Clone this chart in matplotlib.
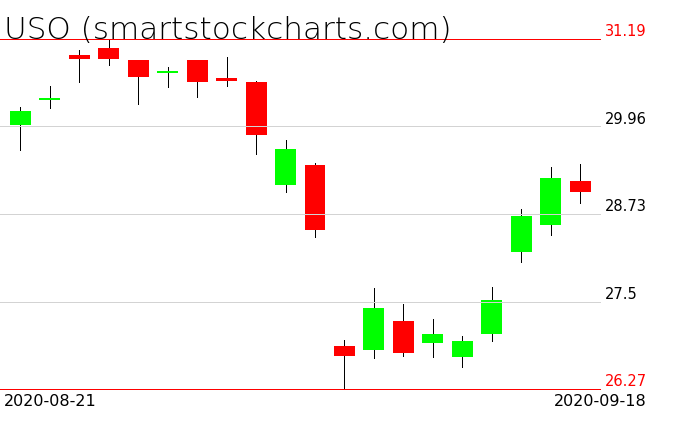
import matplotlib
matplotlib.use("Agg")
import matplotlib.pyplot as plt

# USO daily candles, 2020-08-21 .. 2020-09-18
dates = ["2020-08-21", "2020-08-24", "2020-08-25", "2020-08-26", "2020-08-27",
         "2020-08-28", "2020-08-31", "2020-09-01", "2020-09-02", "2020-09-03",
         "2020-09-04", "2020-09-08", "2020-09-09", "2020-09-10", "2020-09-11",
         "2020-09-14", "2020-09-15", "2020-09-16", "2020-09-17", "2020-09-18"]
opens = [29.98, 30.33, 30.97, 31.06, 30.89, 30.73, 30.89, 30.64, 30.59, 29.14,
         29.42, 26.87, 26.82, 27.23, 26.91, 26.72, 27.04, 28.19, 28.57, 29.19]
highs = [30.24, 30.53, 31.03, 31.18, 30.89, 30.80, 30.89, 30.94, 30.60, 29.77,
         29.45, 26.96, 27.69, 27.47, 27.26, 27.01, 27.70, 28.80, 29.39, 29.43]
lows = [29.63, 30.22, 30.58, 30.83, 30.27, 30.51, 30.38, 30.53, 29.58, 29.04,
        28.40, 26.27, 26.70, 26.74, 26.72, 26.58, 26.95, 28.05, 28.43, 28.89]
closes = [30.18, 30.35, 30.91, 30.91, 30.66, 30.73, 30.58, 30.60, 29.84, 29.64,
          28.50, 26.74, 27.41, 26.78, 27.04, 26.94, 27.52, 28.70, 29.24, 29.04]
levels = [31.19, 29.96, 28.73, 27.5, 26.27]
level_labels = ["31.19", "29.96", "28.73", "27.5", "26.27"]

fig = plt.figure(figsize=(6.76, 4.31), dpi=100)
ax = fig.add_axes([0, 0, 1, 1])
ax.set_axis_off()

xmin, xmax = -0.689, 22.25
ax.set_xlim(xmin, xmax)
ax.set_ylim(25.694, 31.752)

n = len(dates)
xs = list(range(n))

# wicks, 1 px
ax.vlines(xs, lows, highs, color="black", linewidth=0.72, antialiased=False,
          zorder=2)

# bodies (doji get a thin coloured bar)
for i in xs:
    o, c = opens[i], closes[i]
    color = "#00ff00" if c >= o else "#ff0000"
    height = max(abs(c - o), 0.028)
    ax.bar(i, height, bottom=min(o, c) - (0.014 if o == c else 0), width=0.71,
           color=color, linewidth=0, zorder=3)

# horizontal levels, drawn over the bodies
for lv, lab in zip(levels, level_labels):
    edge = lv in (levels[0], levels[-1])
    col = "#ff0000" if edge else "#d3d3d3"
    ax.hlines(lv, xmin, 19.67, color=col, linewidth=0.72, antialiased=False,
              zorder=4)
    ax.text(19.84, lv + 0.01, lab, color="#ff0000" if edge else "black",
            fontsize=10.5, ha="left", va="bottom", zorder=5)

ax.text(4 / 676, 1 - 39 / 431, "USO (smartstockcharts.com)",
        transform=ax.transAxes, fontsize=22.4, fontweight="light",
        ha="left", va="baseline", color="black", zorder=6)

ax.text(4 / 676, 1 - 394 / 431, dates[0], transform=ax.transAxes,
        fontsize=11.5, ha="left", va="top", zorder=6)
ax.text(647 / 676, 1 - 394 / 431, dates[-1], transform=ax.transAxes,
        fontsize=11.5, ha="right", va="top", zorder=6)

fig.savefig("out.png", dpi=100)
plt.close(fig)
